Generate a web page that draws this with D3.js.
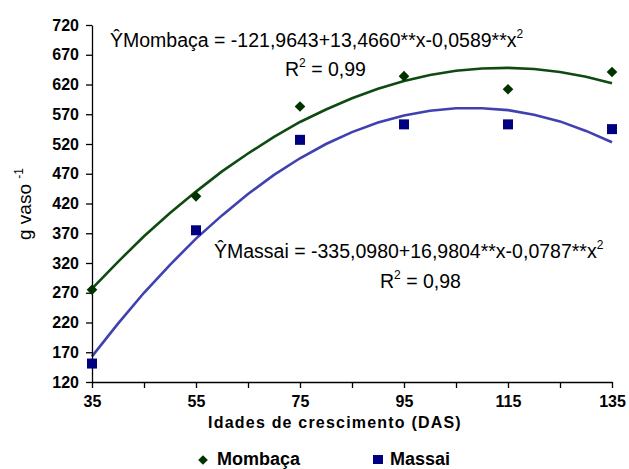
<!DOCTYPE html>
<html>
<head>
<meta charset="utf-8">
<script src="https://cdn.jsdelivr.net/npm/d3@7"></script>
<style>
  body { margin: 0; background: #fff; }
  text { font-family: "Liberation Sans", Arial, sans-serif; }
</style>
</head>
<body>
<script>
// observed points
var days = [35, 55, 75, 95, 115, 135];
var mombaca = [275, 432, 583, 634, 612, 641];
var massai = [151, 375, 527, 553, 553, 545];

// fitted curves
var curveDays = [35, 40, 45, 50, 55, 60, 65, 70, 75, 80, 85, 90, 95, 100, 105, 110, 115, 120, 125, 130, 135];
var mombacaCurve = [277, 322, 365, 404, 440, 474, 504, 532, 557, 578, 597, 613, 626, 636, 643, 647, 648, 646, 641, 633, 622];
var massaiCurve = [163, 218, 270, 317, 361, 400, 436, 468, 496, 520, 540, 556, 568, 576, 580, 580, 577, 569, 558, 542, 523];

var yTicks = [120, 170, 220, 270, 320, 370, 420, 470, 520, 570, 620, 670, 720];
var xTicks = [35, 55, 75, 95, 115, 135];
var xMinor = [45, 65, 85, 105, 125];

var w = 629, h = 469;
var x = d3.scaleLinear().domain([35, 135]).range([92, 612]);
var y = d3.scaleLinear().domain([120, 720]).range([382, 25]);

var svg = d3.select("body").append("svg")
    .attr("width", w)
    .attr("height", h);

var green = "#0f4a10", greenDark = "#003300";
var blue = "#4040b0", blueDark = "#000080";

// curves
var line = d3.line()
    .x(function(d) { return x(d[0]); })
    .y(function(d) { return y(d[1]); })
    .curve(d3.curveLinear);

svg.append("path")
    .attr("d", line(d3.zip(curveDays, mombacaCurve)))
    .attr("fill", "none")
    .attr("stroke", green)
    .attr("stroke-width", 2.6);
svg.append("path")
    .attr("d", line(d3.zip(curveDays, massaiCurve)))
    .attr("fill", "none")
    .attr("stroke", blue)
    .attr("stroke-width", 2.6);

// axes
var yAxis = d3.axisLeft(y).tickValues(yTicks).tickSize(6).tickSizeOuter(0).tickPadding(7);
var gy = svg.append("g").attr("transform", "translate(92,0)").call(yAxis);
var xAxis = d3.axisBottom(x).tickValues(xTicks.concat(xMinor)).tickSize(6).tickSizeOuter(0)
    .tickPadding(8)
    .tickFormat(function(d) { return xTicks.indexOf(d) >= 0 ? d : ""; });
var gx = svg.append("g").attr("transform", "translate(0,382)").call(xAxis);

[gx, gy].forEach(function(g) {
    g.select(".domain").attr("stroke", "#000").attr("stroke-width", 1.3);
    g.selectAll(".tick line").attr("stroke", "#000").attr("stroke-width", 1.3);
    g.selectAll(".tick text")
        .attr("fill", "#000")
        .style("font-family", "'Liberation Sans', Arial, sans-serif")
        .style("font-size", "16px")
        .style("font-weight", "bold");
});

// markers
var diamond = d3.symbol().type(d3.symbolDiamond2).size(72);
svg.selectAll(".mom")
    .data(d3.zip(days, mombaca))
    .enter()
    .append("path")
    .attr("class", "mom")
    .attr("d", diamond)
    .attr("transform", function(d) { return "translate(" + x(d[0]) + "," + y(d[1]) + ")"; })
    .attr("fill", greenDark);
svg.selectAll(".mas")
    .data(d3.zip(days, massai))
    .enter()
    .append("rect")
    .attr("class", "mas")
    .attr("x", function(d) { return x(d[0]) - 5; })
    .attr("y", function(d) { return y(d[1]) - 5; })
    .attr("width", 10)
    .attr("height", 10)
    .attr("fill", blueDark);

// equations
function eq(xp, yp, txt, sup) {
    var t = svg.append("text")
        .attr("x", xp).attr("y", yp)
        .style("font-size", "19.5px")
        .attr("fill", "#000");
    t.append("tspan").text(txt);
    if (sup) t.append("tspan").attr("dy", -9).style("font-size", "12px").text(sup);
    return t;
}
eq(110, 47, "\u0176Mombaça = -121,9643+13,4660**x-0,0589**x", "2");
var r1 = eq(285, 76, "R", "2");
r1.append("tspan").attr("dy", 9).text(" = 0,99");
eq(214, 258, "\u0176Massai = -335,0980+16,9804**x-0,0787**x", "2");
var r2 = eq(380, 288, "R", "2");
r2.append("tspan").attr("dy", 9).text(" = 0,98");

// axis titles
svg.append("text")
    .attr("x", 335).attr("y", 428)
    .attr("text-anchor", "middle")
    .style("font-size", "16px")
    .style("font-weight", "bold")
    .style("letter-spacing", "1.2px")
    .text("Idades de crescimento (DAS)");

var yt = svg.append("text")
    .attr("transform", "translate(31,240) rotate(-90)")
    .style("font-size", "19px")
    .attr("fill", "#000");
yt.append("tspan").text("g vaso ");
yt.append("tspan").attr("dy", -8).style("font-size", "12px").text("-1");

// legend
svg.append("path")
    .attr("d", d3.symbol().type(d3.symbolDiamond2).size(60))
    .attr("transform", "translate(203,460)")
    .attr("fill", greenDark);
svg.append("text").attr("x", 217).attr("y", 464.5)
    .style("font-size", "18px").style("font-weight", "bold").text("Mombaça");
svg.append("rect").attr("x", 373).attr("y", 455).attr("width", 10).attr("height", 9).attr("fill", blueDark);
svg.append("text").attr("x", 390).attr("y", 464.5)
    .style("font-size", "18px").style("font-weight", "bold").text("Massai");
</script>
</body>
</html>
